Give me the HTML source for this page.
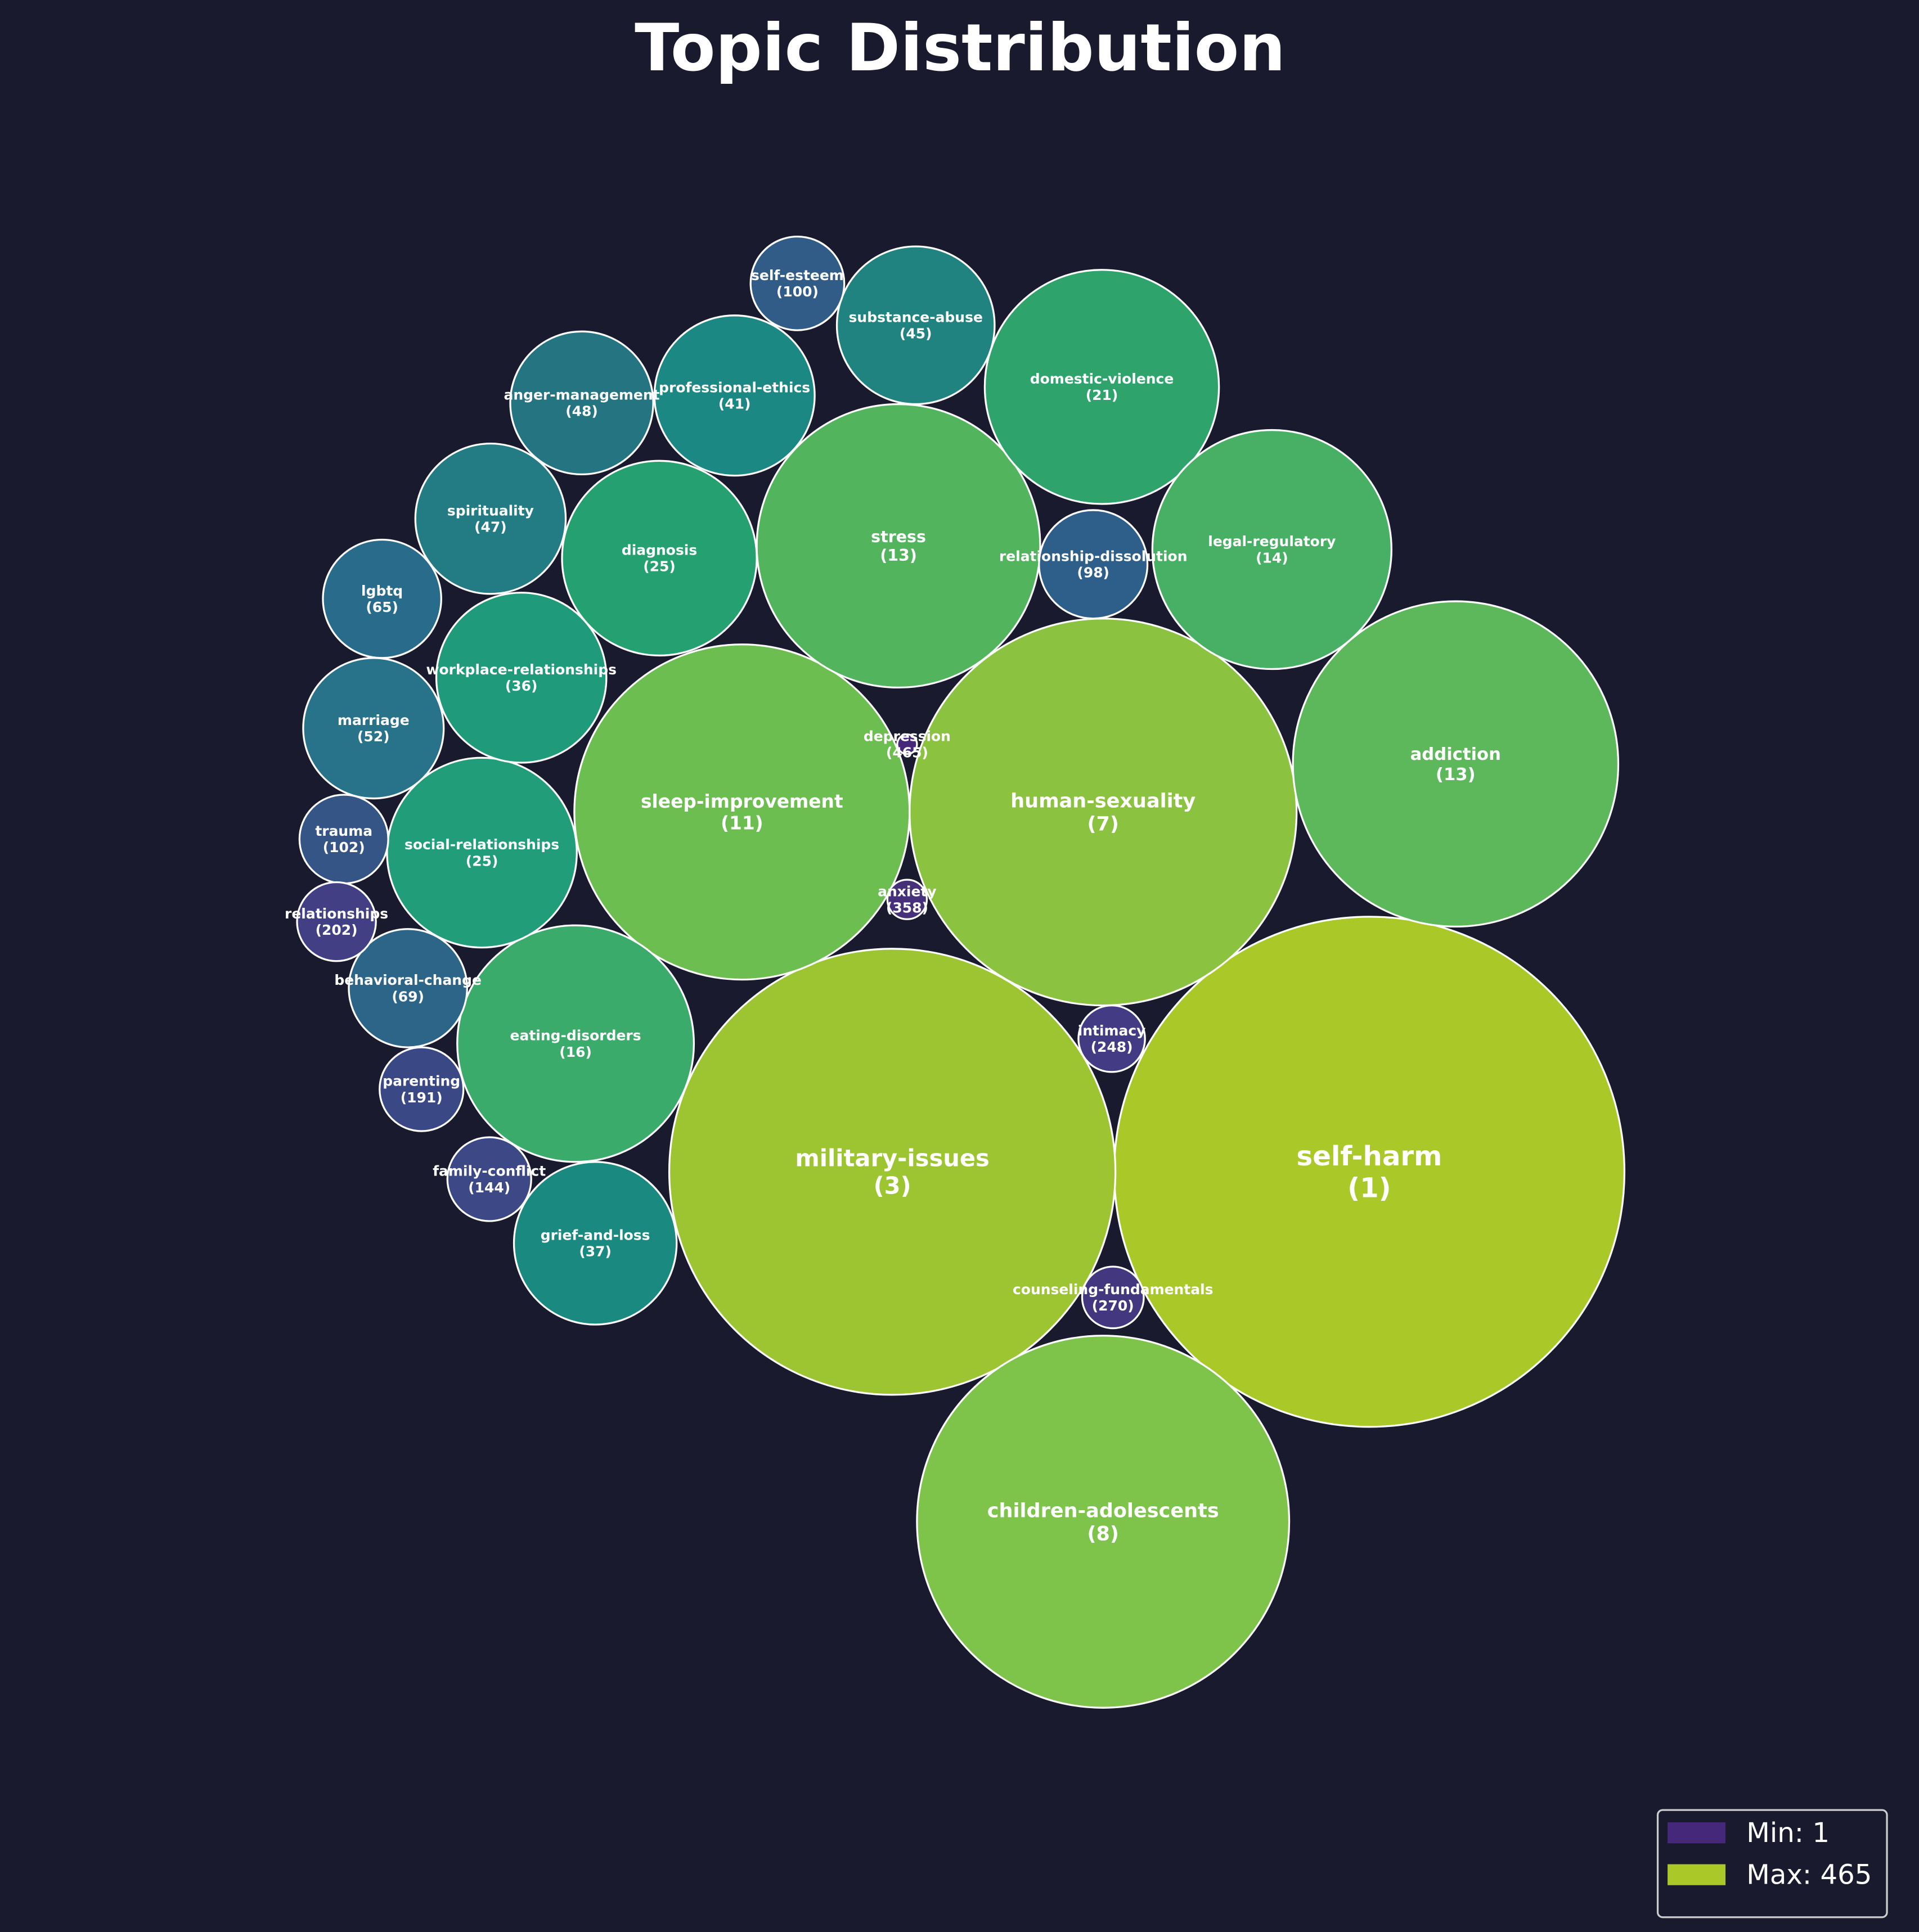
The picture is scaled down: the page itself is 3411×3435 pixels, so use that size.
<!DOCTYPE html>
<html><head><meta charset="utf-8"><style>
html,body{margin:0;padding:0;background:#191a2d;}
svg{display:block;}
text{font-family:"DejaVu Sans","Liberation Sans",sans-serif;fill:#fff;font-weight:bold;}
</style></head><body>
<svg id="chart" width="3411" height="3435" viewBox="0 0 1557 1568" preserveAspectRatio="none" xmlns="http://www.w3.org/2000/svg">
<rect width="1557" height="1568" fill="#191a2d"/>
<text x="779" y="57" text-anchor="middle" font-size="53">Topic Distribution</text>
<g id="bubbles"></g>
<g>
<rect x="1345" y="1469" width="186" height="87" rx="4" fill="#191a2d" stroke="#ccc" stroke-width="1.5"/>
<rect x="1353" y="1479" width="47" height="17" fill="#46287a"/>
<text x="1417" y="1495" font-size="22" style="font-weight:normal">Min: 1</text>
<rect x="1353" y="1513" width="47" height="17" fill="#aac928"/>
<text x="1417" y="1529" font-size="22" style="font-weight:normal">Max: 465</text>
</g>
</svg>
<script>
const topics = ["self-harm","military-issues","children-adolescents","human-sexuality","sleep-improvement","addiction","stress","domestic-violence","legal-regulatory","eating-disorders","diagnosis","social-relationships","workplace-relationships","grief-and-loss","professional-ethics","substance-abuse","anger-management","spirituality","marriage","lgbtq","behavioral-change","relationship-dissolution","self-esteem","trauma","parenting","family-conflict","relationships","intimacy","counseling-fundamentals","anxiety","depression"];
const ranks = [1,3,8,7,11,13,13,21,14,16,25,25,36,37,41,45,48,47,52,65,69,98,100,102,191,144,202,248,270,358,465];
const colors = ["#aac928","#9dc532","#7ec34a","#8bc23f","#6dbe51","#5cb85a","#52b55e","#2ea46c","#47b064","#3aab6b","#25a070","#219d79","#1f9a7a","#1a8a80","#1c8884","#20837f","#247482","#237c84","#28728a","#296b8b","#2d6589","#2d5f8a","#305c87","#355587","#3b4886","#3d4986","#433f85","#433b83","#43377f","#46307a","#46277a"];
// layout (packing positions in viewBox units): cx, cy, r
const layout = [[1111,951,207],[724,951,181],[895,1235,151],[895,659,157],[602,659,136],[1181,620,132],[729,443,115],[894,314,95],[1032,446,97],[467,847,96],[535,453,79],[391,692,77],[423,550,69],[483,1009,66],[596,321,65],[743,264,64],[472,327,58],[398,421,61],[303,591,57],[310,486,48],[331,802,48],[887,458,44],[647,230,38],[279,681,36],[342,884,34],[397,957,34],[273,748,32],[902,843,27],[903,1053,25],[736,730,16],[736,604,8]];
const NS="http://www.w3.org/2000/svg";
const g=document.getElementById('bubbles');
topics.forEach((t,i)=>{
  const [cx,cy,r]=layout[i];
  const c=document.createElementNS(NS,'circle');
  c.setAttribute('cx',cx);c.setAttribute('cy',cy);c.setAttribute('r',r);
  c.setAttribute('fill',colors[i]);c.setAttribute('stroke','#fff');c.setAttribute('stroke-width','1.5');
  
  
  g.appendChild(c);
});
topics.forEach((t,i)=>{
  const [cx,cy,r]=layout[i];
  const fs = r>200?22: r>175?19: r>150?16: r>135?15: r>125?14: r>110?13: 11.4;
  const lh = fs*1.17;
  const a=document.createElementNS(NS,'text');
  a.setAttribute('x',cx);a.setAttribute('y',cy-lh/2+fs*0.35);
  a.setAttribute('text-anchor','middle');a.setAttribute('font-size',fs);
  a.textContent=t;
  
  
  g.appendChild(a);
  const b=document.createElementNS(NS,'text');
  b.setAttribute('x',cx);b.setAttribute('y',cy+lh/2+fs*0.35);
  b.setAttribute('text-anchor','middle');b.setAttribute('font-size',fs);
  b.textContent='('+ranks[i]+')';
  
  
  g.appendChild(b);
});
</script>
</body></html>
